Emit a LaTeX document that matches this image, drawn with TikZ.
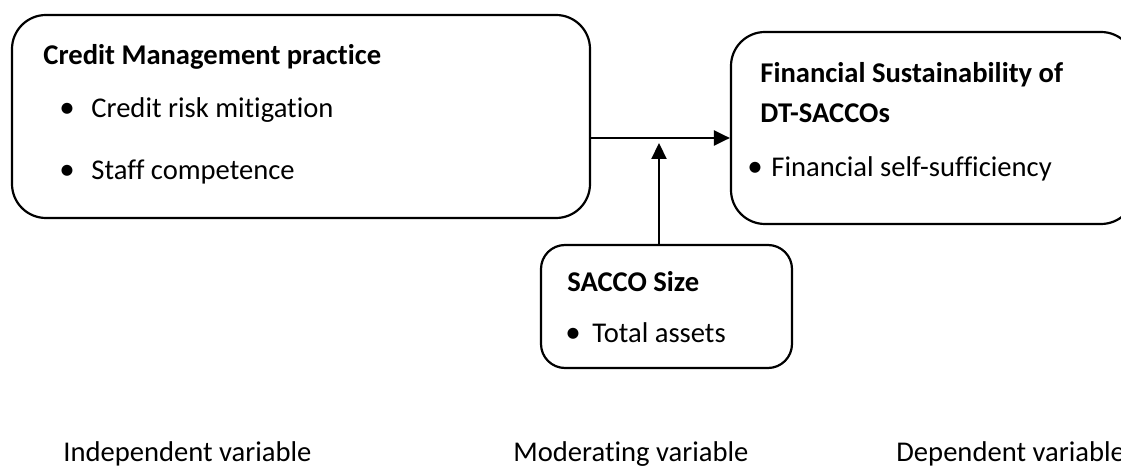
\documentclass[tikz,border=0pt]{standalone}
\usepackage{fontspec}
\setmainfont{Carlito}[Ligatures=NoCommon]
\usetikzlibrary{arrows.meta}

\tikzset{
  varbox/.style={draw, line width=1.1pt, rounded corners=17pt, inner sep=0pt},
  txt/.style={anchor=base west, inner sep=0pt, font=\fontsize{14.3}{17}\selectfont},
  hd/.style={txt, font=\fontsize{14.3}{17}\selectfont\bfseries},
  dot/.style={anchor=base, inner sep=0pt, font=\fontsize{15.5}{17}\selectfont},
  link/.style={line width=1.1pt, -{Triangle[length=8pt,width=7.5pt]}},
}

\begin{document}
\begin{tikzpicture}
\begin{scope}[x={(0.5pt,0)},y={(0,-0.5pt)}]
\useasboundingbox (0,0) rectangle (1121,470);
\clip (0,0) rectangle (1121,470);

% boxes
\node[varbox, minimum width=289pt, minimum height=101.5pt] (cmp) at (301,116.5) {};
\node[varbox, minimum width=202pt, minimum height=96pt] (fin) at (933,128) {};
\node[varbox, rounded corners=12pt, minimum width=125.5pt, minimum height=61.5pt] (size) at (666.5,306.5) {};

% arrows
\coordinate (join) at (590,138);
\coordinate (mod) at (659,143);
\draw[link] (cmp.east |- join) -- (fin.west |- join);
\draw[link] (size.north -| mod) -- (mod);

% independent
\node[hd] (cmph) at (43,65) {Credit Management practice};
\node[dot] (cmpb1) at (67,118) {\textbullet};
\node[txt] (cmp1) at (91,118) {Credit risk mitigation};
\node[dot] (cmpb2) at (67,180) {\textbullet};
\node[txt] (cmp2) at (91,180) {Staff competence};

% dependent
\node[hd] (finh1) at (760,83) {Financial Sustainability of};
\node[hd] (finh2) at (760,123) {DT-SACCOs};
\node[dot] (finb1) at (755,177) {\textbullet};
\node[txt] (fin1) at (771,177) {Financial self-sufficiency};

% moderating
\node[hd] (sizeh) at (567,292) {SACCO Size};
\node[dot] (sizeb1) at (573,343) {\textbullet};
\node[txt] (size1) at (592,343) {Total assets};

% captions
\node[txt] (capi) at (63,462) {Independent variable};
\node[txt] (capm) at (513,462) {Moderating variable};
\node[txt] (capd) at (896,462) {Dependent variable};

\end{scope}
\end{tikzpicture}
\end{document}
